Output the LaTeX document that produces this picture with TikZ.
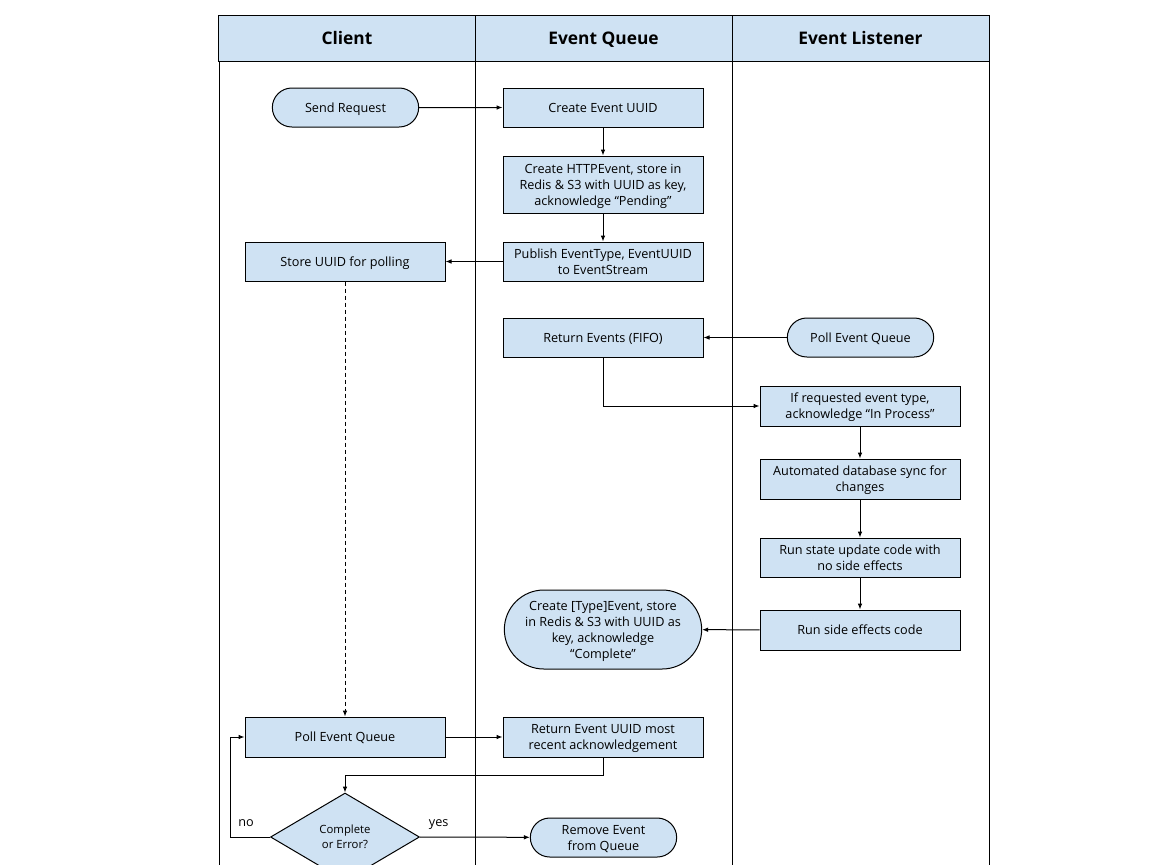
\documentclass[tikz,border=0pt]{standalone}
\usepackage{fontspec}
\setmainfont{Open Sans}
\usetikzlibrary{shapes.geometric,shapes.misc,arrows.meta}
\definecolor{laneblue}{HTML}{CFE2F3}

\begin{document}
\begin{tikzpicture}[x=0.75pt,y=-0.75pt,
    font=\fontsize{9.5}{12}\selectfont,
    lanehead/.style={draw, fill=laneblue, line width=0.75pt, minimum width=192.75pt, minimum height=34.5pt, inner sep=0pt, text height=9.6pt, text depth=-0.6pt, font=\fontsize{13}{15}\selectfont\bfseries},
    box/.style={draw, fill=laneblue, line width=0.75pt, minimum width=150pt, minimum height=29.25pt, inner sep=1pt, text depth=0pt, align=center},
    term/.style={draw, fill=laneblue, line width=0.75pt, rounded rectangle, minimum width=111.75pt, minimum height=29.25pt, inner sep=1pt, text depth=0pt, align=center},
    decide/.style={draw, fill=laneblue, line width=0.75pt, diamond, aspect=1.7, minimum width=111.75pt, minimum height=66pt, inner sep=0pt, text depth=-1.5pt, align=center, font=\fontsize{8.5}{11}\selectfont},
    tag/.style={text depth=0pt, above=4.5pt},
    arr/.style={line width=0.75pt, -{Latex[length=4.5pt,width=3.5pt]}}
  ]
  \useasboundingbox (0,0) rectangle (1152,864);
  \clip (0,0) rectangle (1152,864);

  % lanes
  \draw[line width=0.75pt] (219,15) -- (219,870);
  \draw[line width=0.75pt] (475,15) -- (475,870);
  \draw[line width=0.75pt] (732,15) -- (732,870);
  \draw[line width=0.75pt] (989,15) -- (989,870);
  \node[lanehead] (hc) at (347,38) {Client};
  \node[lanehead] (hq) at (603.5,38) {Event Queue};
  \node[lanehead] (hl) at (860.5,38) {Event Listener};

  % client
  \node[term] (sr) at (345.5,107.5) {Send Request};
  \node[box] (store) at (345,261.5) {Store UUID for polling};
  \node[box, minimum height=30pt] (pollc) at (345,737) {Poll Event Queue};
  \node[decide] (dec) at (345,837) {Complete\\or Error?};

  % event queue
  \node[box] (ceu) at (603,107.5) {Create Event UUID};
  \node[box, minimum height=42.75pt] (http) at (603,184.5) {Create HTTPEvent, store in\\Redis \& S3 with UUID as key,\\acknowledge “Pending”};
  \node[box] (pub) at (603,261.5) {Publish EventType, EventUUID\\to EventStream};
  \node[box] (ret) at (603,337.5) {Return Events (FIFO)};
  \node[term, minimum width=150pt, minimum height=59.25pt] (done) at (603,629.5) {Create [Type]Event, store\\in Redis \& S3 with UUID as\\key, acknowledge\\“Complete”};
  \node[box, minimum height=30pt] (recent) at (603,737) {Return Event UUID most\\recent acknowledgement};
  \node[term] (rm) at (603.5,837.5) {Remove Event\\from Queue};

  % event listener
  \node[term] (polll) at (860.5,337.5) {Poll Event Queue};
  \node[box, minimum height=30pt] (ifreq) at (860,406) {If requested event type,\\acknowledge “In Process”};
  \node[box, minimum height=30pt] (sync) at (860,479) {Automated database sync for\\changes};
  \node[box] (state) at (860,557.5) {Run state update code with\\no side effects};
  \node[box, minimum height=30pt] (side) at (860,630) {Run side effects code};

  \draw[arr] (sr) -- (ceu);
  \draw[arr] (ceu) -- (http);
  \draw[arr] (http) -- (pub);
  \draw[arr] (pub) -- (store);
  \draw[arr, dash pattern=on 3pt off 2.25pt] (store) -- (pollc);
  \draw[arr] (polll) -- (ret);
  \draw[arr] (ret) |- (ifreq);
  \draw[arr] (ifreq) -- (sync);
  \draw[arr] (sync) -- (state);
  \draw[arr] (state) -- (side);
  \draw[arr] (side) -- (done);
  \draw[arr] (pollc) -- (recent);
  \draw[arr] (recent.south) -- ++(0,18) -| (dec.north);
  \draw[arr] (dec.west) -- ++(-40,0) node[pos=0.6, tag] {no} |- (pollc.west);
  \draw[arr] (dec.east) -- (rm) node[pos=0.17, tag] {yes};
\end{tikzpicture}
\end{document}
